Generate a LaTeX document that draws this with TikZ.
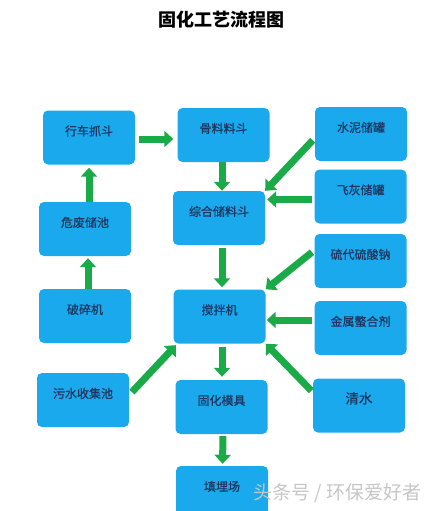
\documentclass[tikz,border=0pt]{standalone}
\usepackage{fontspec}
\newfontfamily\cjk{Noto Sans CJK SC}
\newfontfamily\cjkbox[FakeBold=0.6]{Noto Sans CJK SC}
\usetikzlibrary{arrows.meta}
\definecolor{boxblue}{HTML}{19A9EC}
\definecolor{arrowgreen}{HTML}{1BAA48}
\definecolor{textnavy}{HTML}{1E3560}
\begin{document}
\begin{tikzpicture}[x=1pt,y=-1pt,
  box/.style={rectangle,rounded corners=5pt,fill=boxblue,minimum width=92pt,minimum height=54pt,inner sep=0pt,
    text=textnavy,text height=8pt,text depth=12pt,font=\cjkbox\fontsize{12}{14}\selectfont},
  flow/.style={draw=arrowgreen,line width=7pt,-{Triangle[width=16pt,length=9pt]}}]
\useasboundingbox (0,0) rectangle (437,511);
\begin{scope}
\node (TITLE) at (221,20) [font=\cjk\bfseries\fontsize{18}{20}\selectfont] {固化工艺流程图};
% left column
\node (HCZD) at (89,137.5) [box] {行车抓斗};
\node (WFCC) at (85,229) [box] {危废储池};
\node (PSJ) at (85,316) [box] {破碎机};
\node (WSSJ) at (83,400) [box] {污水收集池};
% middle column
\node (GLLD) at (223.5,135) [box] {骨料料斗};
\node (ZHCL) at (219,218) [box] {综合储料斗};
\node (JBJ) at (219.5,316.5) [box] {搅拌机};
\node (GHMJ) at (221.5,407) [box] {固化模具};
\node (TMC) at (222,493) [box] {填埋场};
% right column
\node (SNCG) at (361,134) [box] {水泥储罐};
\node (FHCG) at (360.5,196.5) [box] {飞灰储罐};
\node (LDSN) at (360.5,261) [box] {硫代硫酸钠};
\node (JSAH) at (360.5,328) [box] {金属螯合剂};
\node (QS) at (359,405.5) [box,font=\cjkbox\fontsize{13.5}{15}\selectfont] {清水};
\node (WM) at (337.5,493) [text=gray!45,font=\cjk\fontsize{19}{21}\selectfont] {头条号 / 环保爱好者};
\draw [flow,shorten <=4pt,shorten >=4pt] ([yshift=-1.5pt]HCZD.east) -- ([yshift=-1.5pt]HCZD.east -| GLLD.west);
\draw [flow,shorten >=3pt] ([xshift=4pt]WFCC.north) -- ([xshift=4pt]WFCC.north |- HCZD.south);
\draw [flow,shorten >=2pt] ([xshift=3pt]PSJ.north) -- ([xshift=3pt]WFCC.south);
\draw [flow] ([xshift=-1.5pt]GLLD.south) -- ([xshift=-1.5pt]GLLD.south |- ZHCL.north);
\draw [flow,shorten <=3pt] (SNCG.185) -- (ZHCL.north east);
\draw [flow,shorten <=2pt,shorten >=2pt] ([yshift=-3pt]FHCG.west) -- ([yshift=-3pt]FHCG.west -| ZHCL.east);
\draw [flow,shorten <=3pt,shorten >=2pt] ([xshift=3pt]ZHCL.south) -- ([xshift=2.5pt]JBJ.north);
\draw [flow,shorten <=3pt] (LDSN.167) -- (JBJ.north east);
\draw [flow,shorten <=2pt,shorten >=1pt] ([yshift=8pt]JSAH.west) -- ([yshift=8pt]JSAH.west -| JBJ.east);
\draw [flow,shorten <=4pt,shorten >=2pt] ([yshift=5pt]WSSJ.east) -- ([xshift=4pt]JBJ.south west);
\draw [flow,shorten <=2pt] (QS.164) -- (JBJ.south east);
\draw [flow,shorten <=3pt,shorten >=3pt] ([xshift=2.5pt]JBJ.south) -- ([xshift=2.5pt]JBJ.south |- GHMJ.north);
\draw [flow,shorten <=2pt,shorten >=2pt] ([xshift=1.5pt]GHMJ.south) -- ([xshift=0.5pt]TMC.north);
\end{scope}
\end{tikzpicture}
\end{document}
